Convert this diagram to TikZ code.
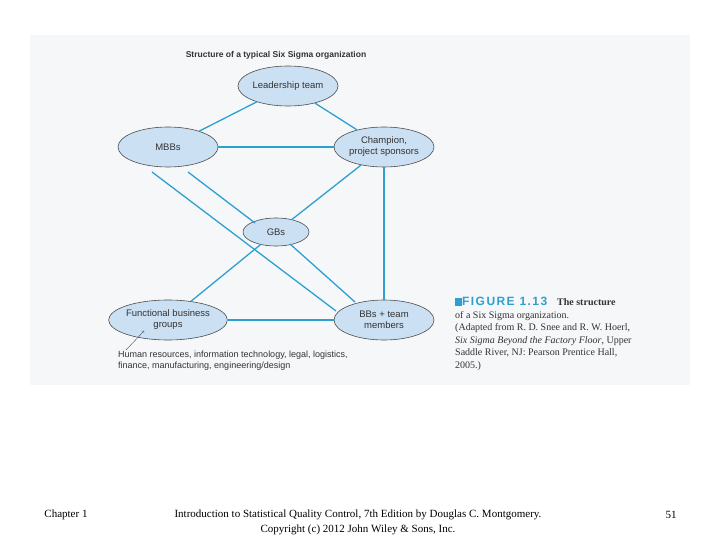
\documentclass[tikz,border=0pt]{standalone}
\usepackage{fontspec}
\setmainfont{Liberation Serif}
\setsansfont{Liberation Sans}
\usetikzlibrary{shapes.geometric}
\definecolor{lnk}{RGB}{45,160,210}
\definecolor{efill}{RGB}{204,224,244}
\definecolor{bg}{RGB}{246,247,249}
\begin{document}
\begin{tikzpicture}[x=1pt,y=-1pt,
  org/.style={ellipse,draw=black!70,fill=efill,line width=0.6pt,minimum width=100pt,minimum height=40pt,inner sep=0pt,align=center,font=\sffamily\fontsize{9.5}{11}\selectfont,text=black!80},
  lk/.style={draw=lnk,line width=1.3pt},
  lkb/.style={draw=lnk,line width=2pt}]
\useasboundingbox (0,0) rectangle (720,540);
\fill[bg] (30,35) rectangle (690,385);
\node[font=\sffamily\bfseries\fontsize{8.5}{9}\selectfont,text=black!80] (title) at (276,55) {Structure of a typical Six Sigma organization};
\node[org] (lead) at (288,86) {Leadership team};
\node[org] (mbb) at (168,147) {MBBs};
\node[org] (champ) at (384,147) {Champion,\\project sponsors};
\node[org,minimum width=66pt,minimum height=28pt] (gb) at (276,232) {GBs};
\node[org] (func) at (168,320) {Functional business\\groups};
\node[org] (bb) at (384,320) {BBs + team\\members};
\coordinate (m1) at (152,172); \coordinate (b1) at (336,311);
\coordinate (m2) at (188,172); \coordinate (g1) at (255,223);
\coordinate (g2) at (290,244); \coordinate (b2) at (355,302);
\draw[lk] (lead) -- (mbb);
\draw[lk] (lead) -- (champ);
\draw[lk] (mbb) -- (champ);
\draw[lk] (m1) -- (b1);
\draw[lk] (m2) -- (g1);
\draw[lk] (g2) -- (b2);
\draw[lk] (champ) -- (gb);
\draw[lk] (gb) -- (func);
\draw[lkb] (champ.south) -- (bb.north);
\draw[lkb] (func) -- (bb);
\node[anchor=north west,align=left,font=\sffamily\fontsize{9}{11}\selectfont,text=black!80,inner sep=0pt] (hr) at (118,351) {Human resources, information technology, legal, logistics,\\finance, manufacturing, engineering/design};
\draw[->,black!70] (126,350) -- (144,331);
\node[anchor=north west,align=left,inner sep=0pt,font=\fontsize{10}{12.5}\selectfont,text=black!80] (cap) at (455,297) {{\color{lnk}\rule{7pt}{8pt}}{\sffamily\bfseries\fontsize{12}{12}\selectfont\color{lnk}\addfontfeature{LetterSpace=12} FIGURE 1.13}\quad\textbf{The structure}\\of a Six Sigma organization.\\(Adapted from R. D. Snee and R. W. Hoerl,\\\textit{Six Sigma Beyond the Factory Floor}, Upper\\Saddle River, NJ: Pearson Prentice Hall,\\2005.)};
\node[font=\fontsize{11}{13}\selectfont] (ch) at (66,515) {Chapter 1};
\node[align=center,font=\fontsize{11}{15}\selectfont] (ft) at (358,522) {Introduction to Statistical Quality Control, 7th Edition by Douglas C. Montgomery.\\Copyright (c) 2012  John Wiley \& Sons, Inc.};
\node[font=\fontsize{11}{13}\selectfont] (pg) at (671,515) {51};
\end{tikzpicture}
\end{document}
